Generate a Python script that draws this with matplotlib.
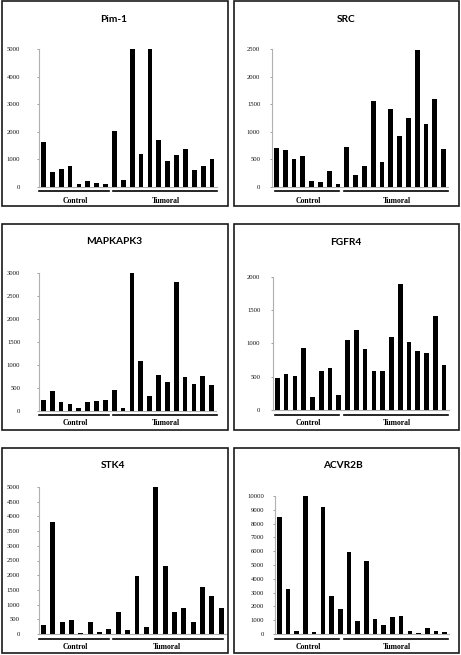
import matplotlib
matplotlib.use("Agg")
import matplotlib.pyplot as plt
from matplotlib.patches import Rectangle
from matplotlib.lines import Line2D

W, H = 461, 655

# ---------------- data ----------------
genes = ["Pim-1", "SRC", "MAPKAPK3", "FGFR4", "STK4", "ACVR2B"]
groups = ["Control", "Tumoral"]
n_control = 8
n_tumoral = 12

pim1 = [1640, 550, 670, 750, 120, 200, 145, 120,
        2030, 270, 5000, 1190, 5000, 1700, 950, 1150, 1370, 630, 750, 1000]
src = [710, 675, 505, 560, 115, 85, 285, 50,
       730, 220, 375, 1550, 460, 1420, 920, 1250, 2475, 1140, 1590, 690]
mapkapk3 = [230, 440, 195, 145, 70, 195, 215, 230,
            450, 70, 3000, 1090, 325, 780, 636, 2790, 737, 578, 770, 557]
fgfr4 = [480, 545, 515, 930, 200, 590, 625, 225,
         1050, 1200, 910, 590, 590, 1090, 1890, 1020, 890, 850, 1410, 680]
stk4 = [290, 3800, 400, 480, 30, 410, 70, 170,
        740, 150, 1960, 230, 5000, 2320, 760, 870, 400, 1610, 1290, 890]
acvr2b = [8500, 3280, 200, 10000, 130, 9200, 2780, 1790,
          5960, 930, 5320, 1110, 630, 1260, 1290, 230, 100, 430, 210, 150]

values = [pim1, src, mapkapk3, fgfr4, stk4, acvr2b]
ymax = [5000, 2500, 3000, 2000, 5000, 10000]
ystep = [1000, 500, 500, 500, 500, 1000]

# ---------------- layout (pixels) ----------------
axes_px = [
    (39, 216.5, 187, 49),
    (272, 448, 187, 49),
    (39, 216, 411, 272.7),
    (273, 448.5, 410, 276.7),
    (38.6, 226, 634, 487),
    (275, 449, 634, 496),
]
panels_px = [  # x0, x1, y0(top), y1(bottom)
    (1.5, 227.5, 1.5, 206),
    (233.5, 459, 1.5, 206),
    (1.5, 227.5, 224, 430),
    (233.5, 459, 224, 430),
    (1.5, 227.5, 448, 653),
    (233.5, 459, 448, 653),
]
title_px = [(114, 19), (346, 19), (114, 241), (346, 242), (113, 466), (343, 466)]
line_y = [191, 191, 414.5, 414.5, 639, 639]
label_y = [201, 201, 423, 423, 647, 647]
ctrl_line = [(39, 109), (275, 339), (39, 109), (275, 339), (39, 109), (275, 339)]
tum_line = [(113, 217), (343.5, 448), (113, 217), (343.5, 448), (113, 223), (343.5, 448)]
ctrl_lab_x = [75, 308, 75, 308, 75, 308]
tum_lab_x = [166, 397, 166, 397, 167, 397]
tick_pad_px = [16.5, 9.5, 16.5, 10.5, 16.5, 8.5]

fig = plt.figure(figsize=(W / 100, H / 100), dpi=100)
fig.patch.set_facecolor("white")

def fx(x):
    return x / W

def fy(y):
    return 1 - y / H

serif = "Liberation Serif"

for i in range(6):
    x0, x1, y0, y1 = panels_px[i]
    fig.add_artist(Rectangle((fx(x0), fy(y1)), fx(x1) - fx(x0), fy(y0) - fy(y1),
                             transform=fig.transFigure, fill=False,
                             edgecolor="#1a1a1a", linewidth=1.2))
    ax_l, ax_r, y_zero, y_top = axes_px[i]
    ax = fig.add_axes([fx(ax_l), fy(y_zero), fx(ax_r) - fx(ax_l), fy(y_top) - fy(y_zero)])
    vals = values[i]
    xs = list(range(len(vals)))
    ax.bar(xs, vals, width=0.53, color="black", zorder=3)
    ax.set_xlim(-0.5, len(vals) - 0.5)
    ax.set_ylim(0, ymax[i])
    ticks = list(range(0, ymax[i] + 1, ystep[i]))
    ax.set_yticks(ticks)
    ax.set_yticklabels([str(t) for t in ticks], fontfamily=serif, fontsize=4.8, color="#111111")
    ax.set_xticks([])
    ax.tick_params(axis="y", length=1.6, width=0.7, color="#a0a0a0",
                   pad=tick_pad_px[i] * 0.72)
    for s in ["top", "right"]:
        ax.spines[s].set_visible(False)
    ax.spines["left"].set_color("#b0b0b0")
    ax.spines["left"].set_linewidth(0.8)
    ax.spines["bottom"].set_color("#b0b0b0")
    ax.spines["bottom"].set_linewidth(0.8)
    ax.patch.set_alpha(0)

    tx, ty = title_px[i]
    fig.text(fx(tx), fy(ty), genes[i], ha="center", va="center",
             fontfamily="Lato", fontweight="bold", fontsize=7.3)

    for (a, b) in (ctrl_line[i], tum_line[i]):
        fig.add_artist(Line2D([fx(a), fx(b)], [fy(line_y[i])] * 2,
                              transform=fig.transFigure, color="black", linewidth=1.2))
    fig.text(fx(ctrl_lab_x[i]), fy(label_y[i]), groups[0], ha="center", va="center",
             fontfamily=serif, fontweight="bold", fontsize=5.6)
    fig.text(fx(tum_lab_x[i]), fy(label_y[i]), groups[1], ha="center", va="center",
             fontfamily=serif, fontweight="bold", fontsize=5.6)

fig.savefig("out.png", dpi=100)
